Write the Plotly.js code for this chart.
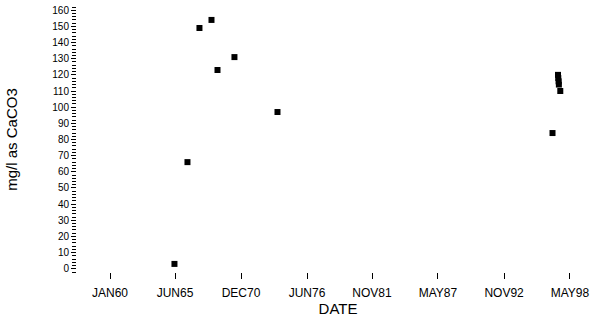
<!DOCTYPE html>
<html><head><meta charset="utf-8">
<script src="https://cdn.plot.ly/plotly-3.0.1.min.js"></script>
<style>body{margin:0;background:#fff}#c{width:595px;height:320px}</style>
</head><body><div id="c"></div>
<script>
const sampleDates = ["1965-05-15","1966-06-15","1967-06-15","1968-06-15","1968-12-15","1970-05-15","1973-12-15","1996-11-15","1997-05-01","1997-05-10","1997-05-20","1997-05-28","1997-07-10"];
const hardness = [3, 66, 149, 154, 123, 131, 97, 84, 120, 118, 116, 114, 110];
const xTickVals = ["1960-01-01","1965-06-01","1970-12-01","1976-06-01","1981-11-01","1987-05-01","1992-11-01","1998-05-01"];
const xTickText = ["JAN60","JUN65","DEC70","JUN76","NOV81","MAY87","NOV92","MAY98"];
const yTickVals = [0,10,20,30,40,50,60,70,80,90,100,110,120,130,140,150,160];

Plotly.newPlot("c", [{
  x: sampleDates, y: hardness, type: "scatter", mode: "markers",
  marker: {symbol: "square", size: 6, color: "#000"}, cliponaxis: false
}], {
  width: 595, height: 320,
  margin: {l: 76, r: 24, t: 7, b: 48},
  paper_bgcolor: "#fff", plot_bgcolor: "#fff",
  showlegend: false,
  font: {family: "Liberation Sans, Arial, sans-serif", size: 10, color: "#000"},
  xaxis: {
    type: "date", range: ["1959-08-01", "1998-06-01"],
    domain: [0.0586, 1],
    tickmode: "array", tickvals: xTickVals, ticktext: xTickText,
    showgrid: false, zeroline: false, showline: false,
    ticks: "outside", ticklen: 6, tickcolor: "#000", tickwidth: 1,
    ticklabelstandoff: 4,
    tickfont: {size: 12},
    title: {text: "DATE", font: {size: 15}, standoff: 0}
  },
  yaxis: {
    range: [-2, 162], anchor: "free", position: 0,
    tickmode: "array", tickvals: yTickVals,
    showgrid: false, zeroline: false, showline: false,
    ticks: "outside", ticklen: 5, tickcolor: "#000", tickwidth: 1,
    minor: {dtick: 2, ticks: "outside", ticklen: 4, tickcolor: "#000"},
    tickfont: {size: 10},
    title: {text: "mg/l as CaCO3", font: {size: 15}, standoff: 30}
  }
}, {staticPlot: true});
</script></body></html>
